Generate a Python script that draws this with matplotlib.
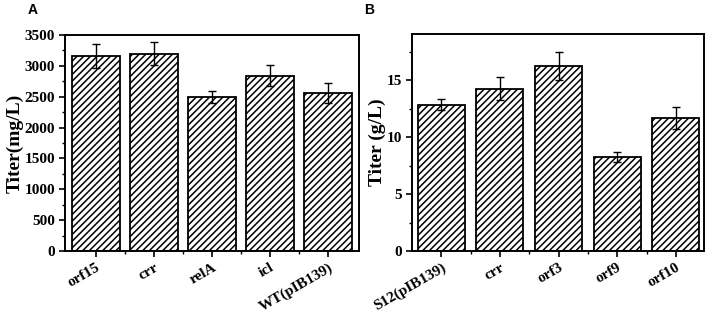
import matplotlib
matplotlib.use("Agg")
import matplotlib.pyplot as plt
from matplotlib.ticker import MultipleLocator
import numpy as np

cats_a = ["orf15", "crr", "relA", "icl", "WT(pIB139)"]
vals_a = [3160, 3200, 2500, 2840, 2560]
errs_a = [195, 180, 100, 170, 165]

cats_b = ["S12(pIB139)", "crr", "orf3", "orf9", "orf10"]
vals_b = [12.85, 14.25, 16.25, 8.25, 11.65]
errs_b = [0.5, 1.0, 1.25, 0.4, 0.95]

plt.rcParams['hatch.linewidth'] = 1.1
serif = ['Liberation Serif', 'DejaVu Serif']

fig = plt.figure(figsize=(7.08, 3.18), dpi=100)
axA = fig.add_axes([65/708, 67/318, 294/708, 216/318])
axB = fig.add_axes([412/708, 67/318, 292/708, 217/318])

def draw(ax, cats, vals, errs, ylim, major, minor, ylabel, xlim, width):
    x = np.arange(len(cats))
    ax.bar(x, vals, width=width, color='white', edgecolor='black',
           linewidth=1.3, hatch='/////', zorder=2)
    ax.errorbar(x, vals, yerr=errs, fmt='none', ecolor='black',
                elinewidth=1.0, capsize=3, capthick=1.0, zorder=3)
    ax.set_xlim(*xlim)
    ax.set_ylim(*ylim)
    ax.yaxis.set_major_locator(MultipleLocator(major))
    ax.yaxis.set_minor_locator(MultipleLocator(minor))
    ax.set_xticks(x)
    ax.set_xticks(x[:-1] + 0.5, minor=True)
    ax.set_xticklabels(cats, rotation=30, ha='right', rotation_mode='anchor',
                       fontfamily=serif, fontweight='bold', fontsize=11)
    for lab in ax.get_yticklabels():
        lab.set_fontfamily(serif)
        lab.set_fontweight('bold')
        lab.set_fontsize(11)
    ax.tick_params(axis='both', which='major', direction='out', length=4,
                   width=1.2)
    ax.tick_params(axis='both', which='minor', direction='out', length=2.5,
                   width=1.0)
    ax.tick_params(axis='y', which='major', pad=3)
    ax.tick_params(axis='x', which='major', pad=3)
    ax.tick_params(top=False, right=False, which='both')
    for s in ax.spines.values():
        s.set_linewidth(1.4)
    ax.set_ylabel(ylabel, fontfamily=serif, fontweight='bold', fontsize=14,
                  labelpad=1)

draw(axA, cats_a, vals_a, errs_a, (0, 3500), 500, 250, "Titer(mg/L)",
     (-0.53, 4.53), 0.82)
draw(axB, cats_b, vals_b, errs_b, (0, 19.05), 5, 2.5, "Titer (g/L)",
     (-0.5, 4.48), 0.8)

fig.text(28/708, 1 - 10/318, "A", fontfamily=['Liberation Sans', 'DejaVu Sans'],
         fontweight='bold', fontsize=10, ha='left', va='center')
fig.text(364/708, 1 - 10/318, "B", fontfamily=['Liberation Sans', 'DejaVu Sans'],
         fontweight='bold', fontsize=10, ha='left', va='center')

fig.savefig("out.png", dpi=100)
